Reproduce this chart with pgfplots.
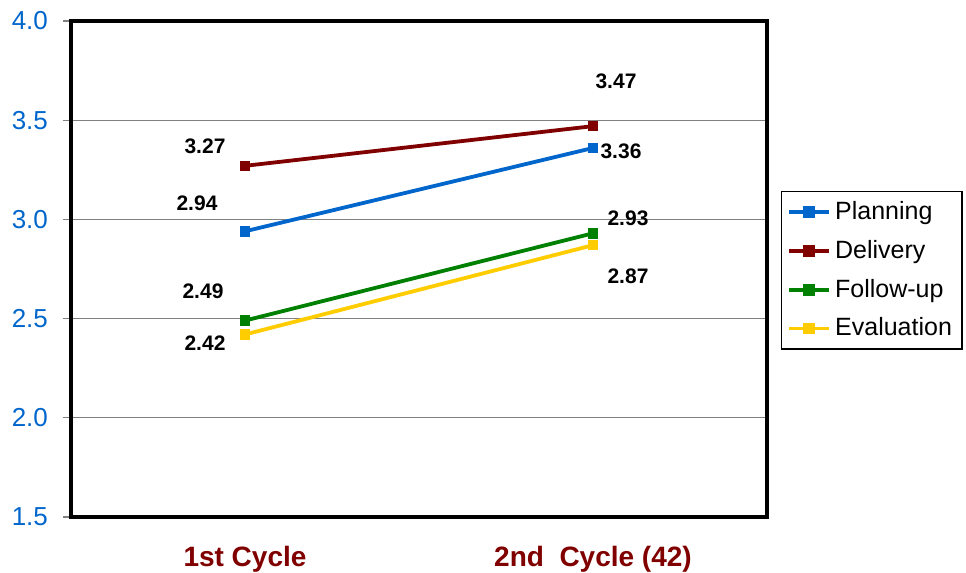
\documentclass[border=0pt]{standalone}
\usepackage{pgfplots}
\pgfplotsset{compat=1.18}
\usepackage{fontspec}
\setmainfont{Liberation Sans}

\definecolor{cPlan}{RGB}{0,102,204}
\definecolor{cDeliv}{RGB}{128,0,0}
\definecolor{cFollow}{RGB}{0,128,0}
\definecolor{cEval}{RGB}{255,204,0}
\definecolor{gridgray}{RGB}{128,128,128}

\begin{document}
\begin{tikzpicture}
% 1px of the reference = 0.5pt
\useasboundingbox (0,0) rectangle (483pt,286.5pt);
\begin{axis}[
    at={(35.5pt,28pt)}, anchor=south west,
    scale only axis,
    width=348pt, height=248pt,
    xmin=-0.5, xmax=1.5,
    ymin=1.5, ymax=4.0,
    ytick={1.5,2.0,2.5,3.0,3.5,4.0},
    ytick pos=left,
    xtick pos=bottom,
    yticklabel style={/pgf/number format/fixed, /pgf/number format/fixed zerofill,
        /pgf/number format/precision=1, /pgf/number format/assume math mode=true,
        font=\fontsize{13}{15}\selectfont, text=cPlan, xshift=-4pt},
    xtick={0,1},
    xticklabels={1st Cycle, 2nd\ \ Cycle (42)},
    xticklabel style={font=\fontsize{14}{16}\selectfont\bfseries, text=cDeliv, yshift=-11pt},
    major x tick style={draw=none},
    extra x ticks={0.5},
    extra x tick labels={},
    extra x tick style={major tick length=4pt, tick align=outside, tick style={draw=gridgray, line width=0.6pt}},
    ytick align=outside,
    major tick length=4pt,
    y tick style={draw=gridgray, line width=0.6pt},
    ymajorgrids,
    grid style={draw=gridgray, line width=0.6pt},
    axis line style={black, line width=1.6pt},
    legend style={at={(1.0201,0.657)}, anchor=north west, draw=black, line width=0.6pt,
        font=\fontsize{12.5}{15}\selectfont, row sep=4.8pt, inner sep=3pt,
        cells={anchor=west}},
    legend image code/.code={
        \draw[#1, line width=1.8pt] (0pt,0pt) -- (20pt,0pt);
        \fill[#1] (8pt,-2pt) rectangle (12pt,2pt);
    },
    clip=false,
]
\addplot[cPlan, line width=1.9pt, mark=square*, mark size=1.7pt] coordinates {(0,2.94) (1,3.36)};
\addlegendentry{Planning}
\addplot[cDeliv, line width=1.9pt, mark=square*, mark size=1.7pt] coordinates {(0,3.27) (1,3.47)};
\addlegendentry{Delivery}
\addplot[cFollow, line width=1.9pt, mark=square*, mark size=1.7pt] coordinates {(0,2.49) (1,2.93)};
\addlegendentry{Follow-up}
\addplot[cEval, line width=1.9pt, mark=square*, mark size=1.7pt] coordinates {(0,2.42) (1,2.87)};
\addlegendentry{Evaluation}

% data labels
\begin{scope}[every node/.style={font=\fontsize{10.5}{12}\selectfont\bfseries, text=black}]
\node[xshift=-24pt, yshift=14pt] at (axis cs:0,2.94) {2.94};
\node[xshift=-20pt, yshift=10pt] at (axis cs:0,3.27) {3.27};
\node[xshift=-21pt, yshift=14.5pt] at (axis cs:0,2.49) {2.49};
\node[xshift=-20pt, yshift=-4.5pt] at (axis cs:0,2.42) {2.42};
\node[xshift=11.5pt, yshift=22.5pt] at (axis cs:1,3.47) {3.47};
\node[xshift=14pt, yshift=-1.5pt] at (axis cs:1,3.36) {3.36};
\node[xshift=17.5pt, yshift=7.5pt] at (axis cs:1,2.93) {2.93};
\node[xshift=17.5pt, yshift=-15.5pt] at (axis cs:1,2.87) {2.87};
\end{scope}
\end{axis}
\end{tikzpicture}
\end{document}
